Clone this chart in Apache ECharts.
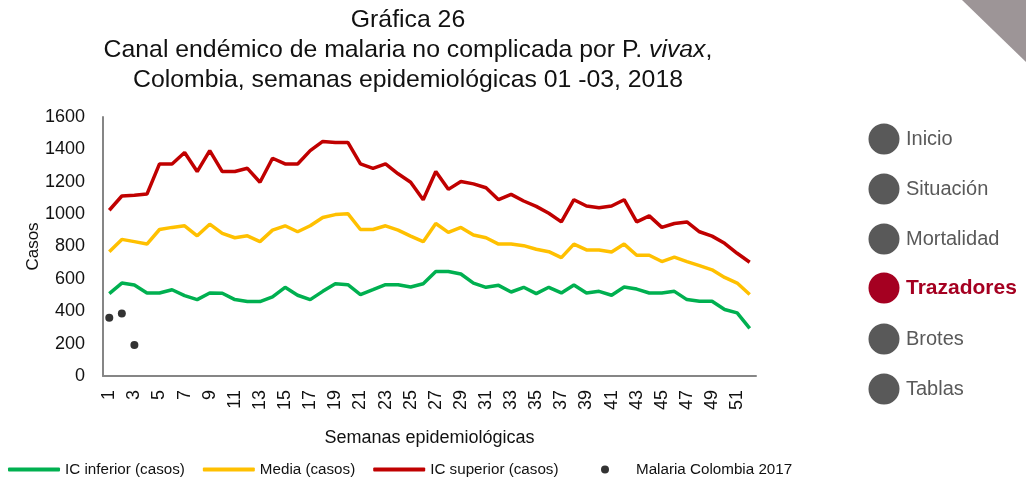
<!DOCTYPE html>
<html>
<head>
<meta charset="utf-8">
<script src="https://cdn.jsdelivr.net/npm/echarts@6/dist/echarts.min.js"></script>
<style>
  body { margin: 0; background: #fff; }
  #graph26 { width: 1026px; height: 479px; }
</style>
</head>
<body>
<div id="graph26"></div>
<script>
// Semanas epidemiológicas
var semanas = ['1', '2', '3', '4', '5', '6', '7', '8', '9', '10', '11', '12', '13',
  '14', '15', '16', '17', '18', '19', '20', '21', '22', '23', '24', '25', '26',
  '27', '28', '29', '30', '31', '32', '33', '34', '35', '36', '37', '38', '39',
  '40', '41', '42', '43', '44', '45', '46', '47', '48', '49', '50', '51', '52'];

// Canal endémico (casos)
var icInferior = [509, 574, 562, 513, 513, 533, 497, 472, 513, 511, 472, 460, 460,
  489, 548, 499, 472, 523, 570, 564, 503, 533, 564, 564, 550, 570,
  646, 646, 630, 574, 548, 560, 519, 548, 509, 548, 513, 562, 513,
  523, 499, 550, 537, 513, 513, 523, 472, 462, 462, 411, 390, 294];

var media = [768, 844, 830, 815, 905, 918, 928, 866, 938, 881, 854, 866, 830,
  901, 928, 891, 928, 979, 997, 1003, 905, 905, 928, 901, 864, 830,
  942, 887, 918, 871, 854, 815, 815, 805, 783, 768, 731, 815, 779,
  779, 766, 815, 746, 746, 707, 734, 707, 682, 656, 609, 574, 503];

var icSuperior = [1024, 1112, 1116, 1124, 1310, 1310, 1381, 1263, 1392, 1263, 1263, 1283, 1197,
  1345, 1310, 1310, 1392, 1449, 1443, 1443, 1310, 1283, 1310, 1249, 1197, 1089,
  1263, 1153, 1202, 1187, 1163, 1089, 1122, 1081, 1048, 1005, 952, 1089, 1050,
  1040, 1050, 1089, 952, 989, 918, 942, 952, 891, 864, 820, 758, 703];

// Casos semanas 01-03
var malaria2017 = [360, 386, 192];

// Menú lateral
var menu = ['Inicio', 'Situación', 'Mortalidad', 'Trazadores', 'Brotes', 'Tablas'];
var menuY = [139, 189, 239, 288, 339, 389];

var fuente = "'Liberation Sans', Arial, sans-serif";

var chart = echarts.init(document.getElementById('graph26'));

// elementos del menú (círculos + texto)
var menuGraphics = [];
menu.forEach(function (item, i) {
  var activo = item === 'Trazadores';
  menuGraphics.push({
    type: 'circle',
    shape: { cx: 884, cy: menuY[i], r: 15.5 },
    style: { fill: activo ? '#a50021' : '#595959' }
  });
  menuGraphics.push({
    type: 'text',
    x: 906,
    y: menuY[i],
    style: {
      text: item,
      fill: activo ? '#a50021' : '#595959',
      font: (activo ? 'bold 21px ' : '20px ') + fuente,
      textVerticalAlign: 'middle'
    }
  });
});
// triángulo esquina superior
menuGraphics.push({
  type: 'polygon',
  shape: { points: [[962, 0], [1026, 0], [1026, 62]] },
  style: { fill: '#9d9597' }
});

var option = {
  animation: false,
  title: {
    text: 'Gráfica 26\nCanal endémico de malaria no complicada por P. {it|vivax},\nColombia, semanas epidemiológicas 01 -03, 2018',
    left: 403,
    top: 0,
    textAlign: 'center',
    textStyle: {
      fontFamily: fuente,
      fontWeight: 'normal',
      fontSize: 24.8,
      lineHeight: 30,
      color: '#111',
      rich: {
        it: { fontStyle: 'italic', fontSize: 24.8, lineHeight: 30, fontFamily: fuente, color: '#111' }
      }
    }
  },
  legend: [
    {
      data: ['IC inferior (casos)', 'Media (casos)', 'IC superior (casos)'],
      left: 3,
      top: 457,
      itemWidth: 52,
      itemHeight: 4,
      itemGap: 18,
      icon: 'roundRect',
      textStyle: { fontFamily: fuente, fontSize: 15.2, color: '#111' }
    },
    {
      data: ['Malaria Colombia 2017'],
      left: 596,
      top: 457,
      itemWidth: 8,
      itemHeight: 8,
      icon: 'circle',
      textStyle: { fontFamily: fuente, fontSize: 15.2, color: '#111', padding: [0, 0, 0, 22] }
    }
  ],
  grid: { left: 103, right: 270, top: 117, bottom: 103, outerBoundsMode: 'none' },
  xAxis: {
    type: 'category',
    data: semanas,
    name: 'Semanas epidemiológicas',
    nameLocation: 'middle',
    nameGap: 53,
    nameMoveOverlap: false,
    nameTextStyle: { fontFamily: fuente, fontSize: 18, color: '#111' },
    axisLine: { lineStyle: { color: '#868686', width: 2 } },
    axisTick: { show: false },
    axisLabel: {
      interval: 1,
      rotate: 90,
      margin: 14,
      fontFamily: fuente,
      fontSize: 18,
      color: '#111'
    }
  },
  yAxis: {
    type: 'value',
    min: 0,
    max: 1600,
    interval: 200,
    name: 'Casos',
    nameLocation: 'middle',
    nameRotate: 90,
    nameGap: 64,
    nameMoveOverlap: false,
    nameTextStyle: { fontFamily: fuente, fontSize: 17, color: '#111', padding: [0, 0, -3, 0] },
    axisLine: { show: true, lineStyle: { color: '#868686', width: 2 } },
    axisTick: { show: false },
    splitLine: { show: false },
    axisLabel: {
      margin: 18,
      fontFamily: fuente,
      fontSize: 18,
      color: '#111',
      formatter: function (v) { return String(v); }
    }
  },
  series: [
    {
      name: 'IC inferior (casos)',
      type: 'line',
      data: icInferior,
      symbol: 'none',
      color: '#00b050',
      lineStyle: { width: 3.5, color: '#00b050' }
    },
    {
      name: 'Media (casos)',
      type: 'line',
      data: media,
      symbol: 'none',
      color: '#ffc000',
      lineStyle: { width: 3.5, color: '#ffc000' }
    },
    {
      name: 'IC superior (casos)',
      type: 'line',
      data: icSuperior,
      symbol: 'none',
      color: '#c00000',
      lineStyle: { width: 3.5, color: '#c00000' }
    },
    {
      name: 'Malaria Colombia 2017',
      type: 'scatter',
      data: malaria2017,
      symbolSize: 8,
      itemStyle: { color: '#000' }
    }
  ],
  graphic: menuGraphics
};

chart.setOption(option);
</script>
</body>
</html>
